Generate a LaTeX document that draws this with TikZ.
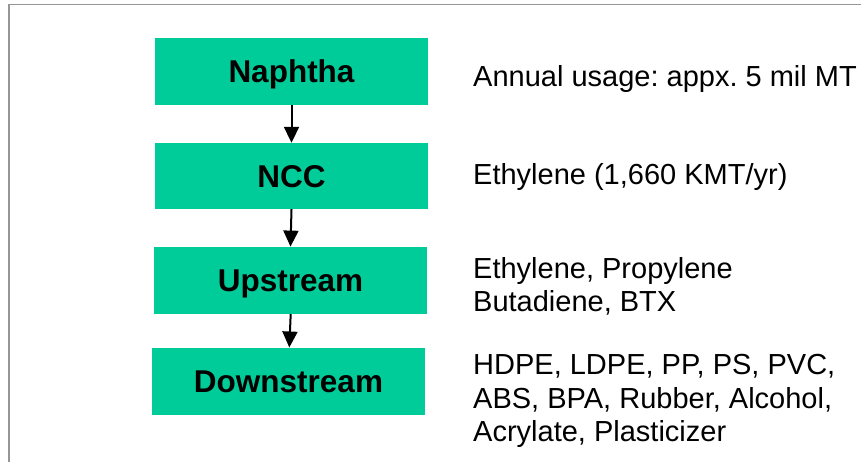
\documentclass[tikz,border=0pt]{standalone}
\usepackage{fontspec}
\setmainfont{Liberation Sans}
\frenchspacing
\usetikzlibrary{arrows.meta}
\definecolor{boxgreen}{RGB}{0,204,153}
\definecolor{framegray}{RGB}{150,150,150}
\tikzset{
  stagebox/.style={fill=boxgreen, draw=none, minimum width=273pt, minimum height=67pt,
    inner sep=0pt, font=\fontsize{31.5}{36}\selectfont\bfseries,
    text height=22.6pt, text depth=0pt},
  infotext/.style={anchor=base west, align=left, inner sep=0pt,
    font=\fontsize{29}{33.7}\selectfont\frenchspacing},
  flowarrow/.style={line width=2pt, -{Triangle[length=16pt,width=15pt]}}
}
\begin{document}
\begin{tikzpicture}[x=1pt,y=-1pt]
\useasboundingbox (0,0) rectangle (861,462);
\draw[framegray, line width=1.5pt] (9,470) -- (9,4.5) -- (870,4.5);
\node[stagebox] (naph) at (291.5,71.5) {Naphtha};
\node[stagebox, minimum height=66pt] (ncc) at (291.5,176) {NCC};
\node[stagebox] (up) at (290.5,280.3) {Upstream};
\node[stagebox] (down) at (288.5,381.2) {Downstream};
\draw[flowarrow] (naph.south) -- (ncc.north);
\draw[flowarrow] (ncc.south) -- (up.north);
\draw[flowarrow] ([xshift=0.2pt]up.south) -- ([xshift=0.8pt]down.north);
\node[infotext] (t1) at (473,86.7) {Annual usage: appx. 5 mil MT};
\node[infotext] (t2) at (473,184.3) {Ethylene (1,660 KMT/yr)};
\node[infotext] (t3) at (473,311.7) {Ethylene, Propylene\\Butadiene, BTX};
\node[infotext] (t4) at (473,441.7) {HDPE, LDPE, PP, PS, PVC,\\ABS, BPA, Rubber, Alcohol,\\Acrylate, Plasticizer};
\end{tikzpicture}
\end{document}
